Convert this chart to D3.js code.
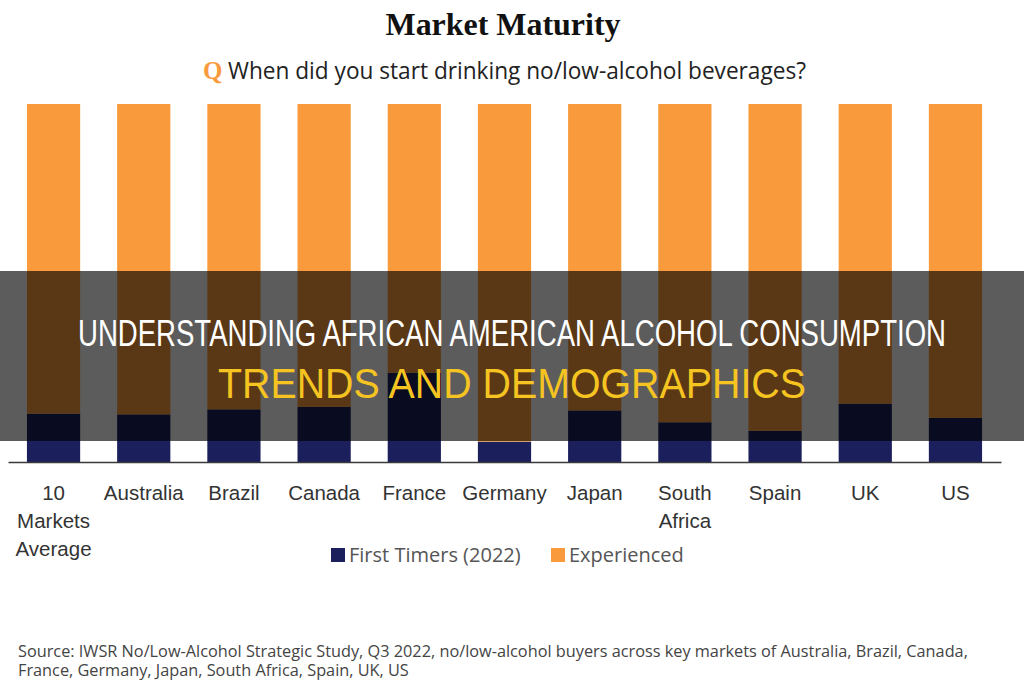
<!DOCTYPE html>
<html>
<head>
<meta charset="utf-8">
<script src="https://cdn.jsdelivr.net/npm/d3@7"></script>
<style>
    body { margin: 0; background: #fff; }
    svg { display: block; }
</style>
</head>
<body>
<div id="chart"></div>
<script>
// data (percent of no/low buyers)
var categories = ["10 Markets Average", "Australia", "Brazil", "Canada", "France", "Germany",
    "Japan", "South Africa", "Spain", "UK", "US"];
var tickLabels = [["10", "Markets", "Average"], ["Australia"], ["Brazil"], ["Canada"], ["France"],
    ["Germany"], ["Japan"], ["South", "Africa"], ["Spain"], ["UK"], ["US"]];
var firstTimers = [13.5, 13.3, 14.7, 15.4, 24.9, 5.7, 14.4, 11.1, 8.7, 16.3, 12.3];
var experienced = [86.5, 86.7, 85.3, 84.6, 75.1, 94.3, 85.6, 88.9, 91.3, 83.7, 87.7];
var seriesNames = ["First Timers (2022)", "Experienced"];
var seriesColors = ["#1b1f5c", "#f99b3d"];

var width = 1024, height = 680;
var plotTop = 104, plotBottom = 462;

var svg = d3.select("#chart")
    .append("svg")
    .attr("width", width)
    .attr("height", height)
    .style("font-family", "'Open Sans', sans-serif");

var xScale = d3.scaleBand()
    .domain(categories)
    .range([8, 1001])
    .paddingInner(0.41)
    .paddingOuter(0.21);

var yScale = d3.scaleLinear()
    .domain([0, 100])
    .range([plotBottom, plotTop]);

var rows = categories.map(function (c, i) {
    return {cat: c, first: firstTimers[i], exp: experienced[i]};
});
var stack = d3.stack().keys(["first", "exp"]);
var layers = stack(rows);

svg.append("g")
    .selectAll("g")
    .data(layers)
    .enter().append("g")
    .attr("fill", function (d, i) { return seriesColors[i]; })
    .selectAll("rect")
    .data(function (d) { return d; })
    .enter().append("rect")
    .attr("x", function (d) { return xScale(d.data.cat); })
    .attr("width", xScale.bandwidth())
    .attr("y", function (d) { return yScale(d[1]); })
    .attr("height", function (d) { return yScale(d[0]) - yScale(d[1]); });

// x axis
var xAxis = d3.axisBottom(xScale)
    .tickSize(0)
    .tickSizeOuter(0)
    .tickFormat("");

var axisG = svg.append("g")
    .attr("class", "x axis")
    .attr("transform", "translate(0," + plotBottom + ")")
    .call(xAxis);

axisG.select("path.domain")
    .attr("stroke", "#3a3a3a")
    .attr("stroke-width", 1.5);

axisG.selectAll(".tick text")
    .each(function (d, i) {
        var t = d3.select(this)
            .attr("fill", "#333")
            .style("font-size", "20.5px")
            .attr("y", 0)
            .attr("dy", null);
        tickLabels[i].forEach(function (line, j) {
            t.append("tspan")
                .attr("x", 0)
                .attr("y", 38 + j * 28)
                .text(line);
        });
    });

// titles
svg.append("text")
    .attr("x", 503)
    .attr("y", 35)
    .attr("text-anchor", "middle")
    .style("font-family", "'Liberation Serif', serif")
    .style("font-weight", "bold")
    .style("font-size", "31px")
    .attr("textLength", 235)
    .attr("lengthAdjust", "spacingAndGlyphs")
    .attr("fill", "#111")
    .text("Market Maturity");

svg.append("text")
    .attr("x", 203)
    .attr("y", 79)
    .style("font-family", "'Liberation Serif', serif")
    .style("font-weight", "bold")
    .attr("fill", "#f99b3d")
    .style("font-size", "25px")
    .text("Q");

svg.append("text")
    .attr("x", 228)
    .attr("y", 79)
    .style("font-size", "23px")
    .attr("textLength", 578)
    .attr("lengthAdjust", "spacingAndGlyphs")
    .attr("fill", "#222")
    .text("When did you start drinking no/low-alcohol beverages?");

// legend
var legend = svg.append("g")
    .attr("transform", "translate(331,548)");
var legendX = [0, 220];
seriesNames.forEach(function (name, i) {
    var g = legend.append("g").attr("transform", "translate(" + legendX[i] + ",0)");
    g.append("rect")
        .attr("width", 14)
        .attr("height", 14)
        .attr("fill", seriesColors[i]);
    g.append("text")
        .attr("x", 18)
        .attr("y", 14)
        .style("font-size", "20px")
        .attr("fill", "#555")
        .text(name);
});

// source
var src = svg.append("text")
    .attr("x", 18)
    .attr("y", 657)
    .style("font-size", "16.3px")
    .attr("fill", "#444");
src.append("tspan")
    .attr("x", 18)
    .text("Source: IWSR No/Low-Alcohol Strategic Study, Q3 2022, no/low-alcohol buyers across key markets of Australia, Brazil, Canada,");
src.append("tspan")
    .attr("x", 18)
    .attr("y", 676)
    .text("France, Germany, Japan, South Africa, Spain, UK, US");

// dark banner laid over the middle of the chart
svg.append("rect")
    .attr("x", 0)
    .attr("y", 271)
    .attr("width", width)
    .attr("height", 170)
    .attr("fill", "rgba(0,0,0,0.64)");

svg.append("text")
    .attr("x", 78)
    .attr("y", 346)
    .attr("textLength", 868)
    .attr("lengthAdjust", "spacingAndGlyphs")
    .style("font-family", "'Liberation Sans', sans-serif")
    .style("font-size", "36px")
    .attr("fill", "#fff")
    .text("UNDERSTANDING AFRICAN AMERICAN ALCOHOL CONSUMPTION");

svg.append("text")
    .attr("x", 218)
    .attr("y", 398)
    .attr("textLength", 588)
    .attr("lengthAdjust", "spacingAndGlyphs")
    .style("font-family", "'Liberation Sans', sans-serif")
    .style("font-size", "42px")
    .attr("fill", "#f5c421")
    .text("TRENDS AND DEMOGRAPHICS");
</script>
</body>
</html>
